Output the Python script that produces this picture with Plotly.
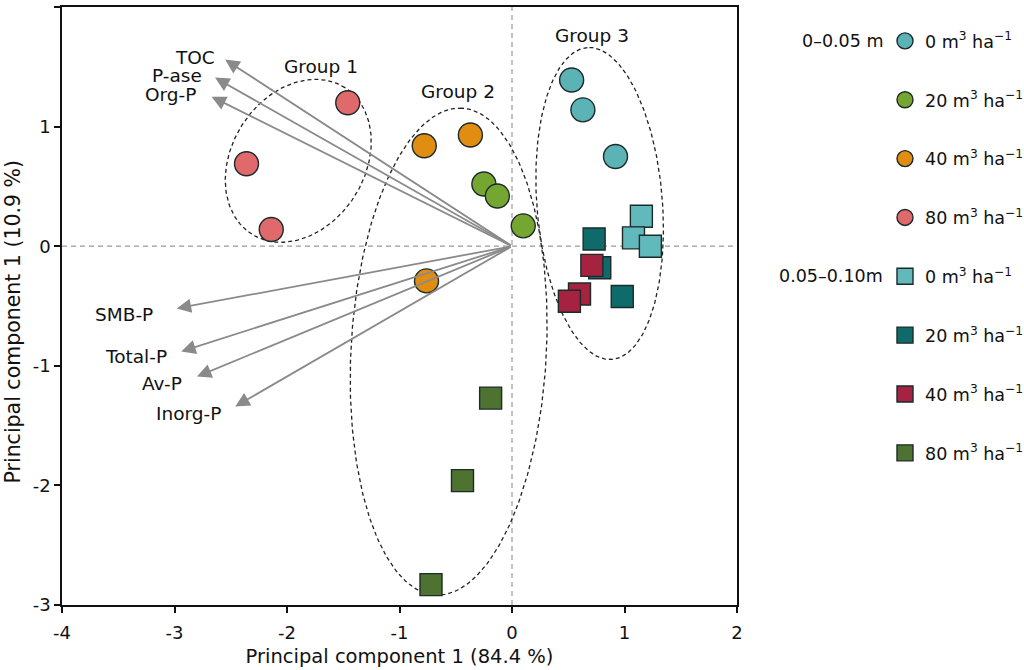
import numpy as np
import plotly.graph_objects as go

# ---------------- data ----------------
series_names = ["0 m<sup>3</sup> ha<sup>−1</sup>", "20 m<sup>3</sup> ha<sup>−1</sup>",
                "40 m<sup>3</sup> ha<sup>−1</sup>", "80 m<sup>3</sup> ha<sup>−1</sup>",
                "0 m<sup>3</sup> ha<sup>−1</sup>", "20 m<sup>3</sup> ha<sup>−1</sup>",
                "40 m<sup>3</sup> ha<sup>−1</sup>", "80 m<sup>3</sup> ha<sup>−1</sup>"]
series_symbols = ["circle"] * 4 + ["square"] * 4
series_colors = ["#5BB3B5", "#76A632", "#E08D12", "#E06A6B",
                 "#62B9BC", "#0E6B69", "#A52341", "#4E7330"]

# surface layer 0-0.05 m (circles)
s0_x = [0.53, 0.63, 0.92]
s0_y = [1.39, 1.14, 0.75]
s20_x = [-0.25, -0.13, 0.10]
s20_y = [0.52, 0.42, 0.17]
s40_x = [-0.78, -0.37, -0.76]
s40_y = [0.84, 0.93, -0.29]
s80_x = [-1.46, -2.36, -2.14]
s80_y = [1.20, 0.69, 0.14]
# sub layer 0.05-0.10 m (squares)
d0_x = [1.15, 1.08, 1.23]
d0_y = [0.25, 0.07, 0.00]
d20_x = [0.73, 0.78, 0.98]
d20_y = [0.06, -0.18, -0.42]
d40_x = [0.71, 0.60, 0.51]
d40_y = [-0.16, -0.40, -0.46]
d80_x = [-0.19, -0.44, -0.72]
d80_y = [-1.27, -1.96, -2.83]

series_x = [s0_x, s20_x, s40_x, s80_x, d0_x, d20_x, d40_x, d80_x]
series_y = [s0_y, s20_y, s40_y, s80_y, d0_y, d20_y, d40_y, d80_y]

# loading vectors (arrow tips)
var_names = ["TOC", "P-ase", "Org-P", "SMB-P", "Total-P", "Av-P", "Inorg-P"]
var_x = [-2.55, -2.64, -2.67, -2.98, -2.94, -2.80, -2.46]
var_y = [1.56, 1.41, 1.25, -0.52, -0.88, -1.09, -1.34]
label_x = [-2.82, -2.98, -3.04, -3.45, -3.34, -3.11, -2.88]
label_y = [1.58, 1.43, 1.27, -0.57, -0.92, -1.15, -1.40]

# group ellipses: centre (data), semi-axes (px), angle (deg, screen)
group_names = ["Group 1", "Group 2", "Group 3"]
group_label_x = [-1.70, -0.48, 0.71]
group_label_y = [1.50, 1.29, 1.76]
ell_cx = [-1.90, -0.563, 0.779]
ell_cy = [0.714, -0.881, 0.357]
ell_a = [86.8, 243.8, 156.4]
ell_b = [66.6, 97.7, 62.8]
ell_ang = [57.5, 86.9, 94.5]

xticks = [-4, -3, -2, -1, 0, 1, 2]
xtick_text = ["-4", "-3", "-2", "-1", "0", "1", "2"]
yticks = [-3, -2, -1, 0, 1, 2]
ytick_text = ["-3", "-2", "-1", "0", "1", "2"]

FONT = "DejaVu Sans"
W, H = 1024, 670
ML, MR, MT, MB = 62, 287, 7, 65
PW, PH = W - ML - MR, H - MT - MB
px_per_x = PW / 6.0
px_per_y = PH / 5.0

fig = go.Figure()

# ellipses
t = np.linspace(0, 2 * np.pi, 300)
for cx, cy, a, b, ang in zip(ell_cx, ell_cy, ell_a, ell_b, ell_ang):
    th = np.deg2rad(ang)
    ex = cx + (a * np.cos(th) * np.cos(t) - b * np.sin(th) * np.sin(t)) / px_per_x
    ey = cy + (a * np.sin(th) * np.cos(t) + b * np.cos(th) * np.sin(t)) / px_per_y
    fig.add_trace(go.Scatter(x=ex, y=ey, mode="lines",
                             line=dict(color="#222222", width=1.3, dash="4px,3px"),
                             showlegend=False, hoverinfo="skip"))

for i in range(8):
    fig.add_trace(go.Scatter(
        x=series_x[i], y=series_y[i], mode="markers", name=series_names[i],
        legendgroup="g%d" % i,
        marker=dict(symbol=series_symbols[i], color=series_colors[i],
                    size=24 if series_symbols[i] == "circle" else 22,
                    line=dict(color="#1c2a2a", width=1.4))))

# zero lines
fig.add_shape(type="line", xref="x", yref="y", x0=0, x1=0, y0=-3, y1=2,
              line=dict(color="#9a9a9a", width=1.2, dash="5px,4px"), layer="below")
fig.add_shape(type="line", xref="x", yref="y", x0=-4, x1=2, y0=0, y1=0,
              line=dict(color="#9a9a9a", width=1.2, dash="5px,4px"), layer="below")

# arrows and labels
for n, vx, vy, lx, ly in zip(var_names, var_x, var_y, label_x, label_y):
    fig.add_annotation(x=vx, y=vy, ax=0, ay=0, xref="x", yref="y", axref="x", ayref="y",
                       text="", showarrow=True, arrowhead=2, arrowsize=1.6,
                       arrowwidth=1.8, arrowcolor="#8a8a8a")
    fig.add_annotation(x=lx, y=ly, xref="x", yref="y", text=n, showarrow=False,
                       font=dict(family=FONT, size=18.5, color="#111111"))

for n, gx, gy in zip(group_names, group_label_x, group_label_y):
    fig.add_annotation(x=gx, y=gy, xref="x", yref="y", text=n, showarrow=False,
                       font=dict(family=FONT, size=18.5, color="#111111"))

# legend group labels
fig.add_annotation(x=(885 - ML) / PW, y=(H - MB - 41) / PH,
                   xref="paper", yref="paper", text="0–0.05 m", showarrow=False,
                   xanchor="right", yanchor="middle",
                   font=dict(family=FONT, size=17.5, color="#111111"))
fig.add_annotation(x=(885 - ML) / PW, y=(H - MB - 276) / PH,
                   xref="paper", yref="paper", text="0.05–0.10m", showarrow=False,
                   xanchor="right", yanchor="middle",
                   font=dict(family=FONT, size=17.5, color="#111111"))

# y-axis title
fig.add_annotation(x=(12.5 - ML) / PW, y=(H - MB - 322) / PH, xref="paper", yref="paper",
                   text="Principal component 1 (10.9 %)", textangle=-90, showarrow=False,
                   xanchor="center", yanchor="middle",
                   font=dict(family=FONT, size=20.5, color="#111111"))

axis_common = dict(showline=True, mirror=True, linecolor="#111111", linewidth=1.5,
                   ticks="outside", ticklen=6, tickwidth=1.5, tickcolor="#111111",
                   showgrid=False, zeroline=False, automargin=False,
                   tickfont=dict(family=FONT, size=18, color="#111111"))

fig.update_layout(
    width=W, height=H,
    margin=dict(l=ML, r=MR, t=MT, b=MB, autoexpand=False),
    paper_bgcolor="white", plot_bgcolor="white",
    font=dict(family=FONT, size=18, color="#111111"),
    xaxis=dict(range=[-4, 2], tickvals=xticks, ticktext=xtick_text, ticklabelstandoff=5,
               title=dict(text="Principal component 1 (84.4 %)", standoff=7,
                          font=dict(family=FONT, size=19.5)), **axis_common),
    yaxis=dict(range=[-3, 2], tickvals=yticks, ticktext=ytick_text, **axis_common),
    legend=dict(x=(885 - ML) / PW, y=(H - MB - 23) / PH, xanchor="left", yanchor="top",
                tracegroupgap=33.1, font=dict(family=FONT, size=17.5),
                bgcolor="rgba(0,0,0,0)"),
    showlegend=True,
)

fig.write_html("out.html", config={"displayModeBar": False},
               post_script="document.body.style.margin='0px';")
